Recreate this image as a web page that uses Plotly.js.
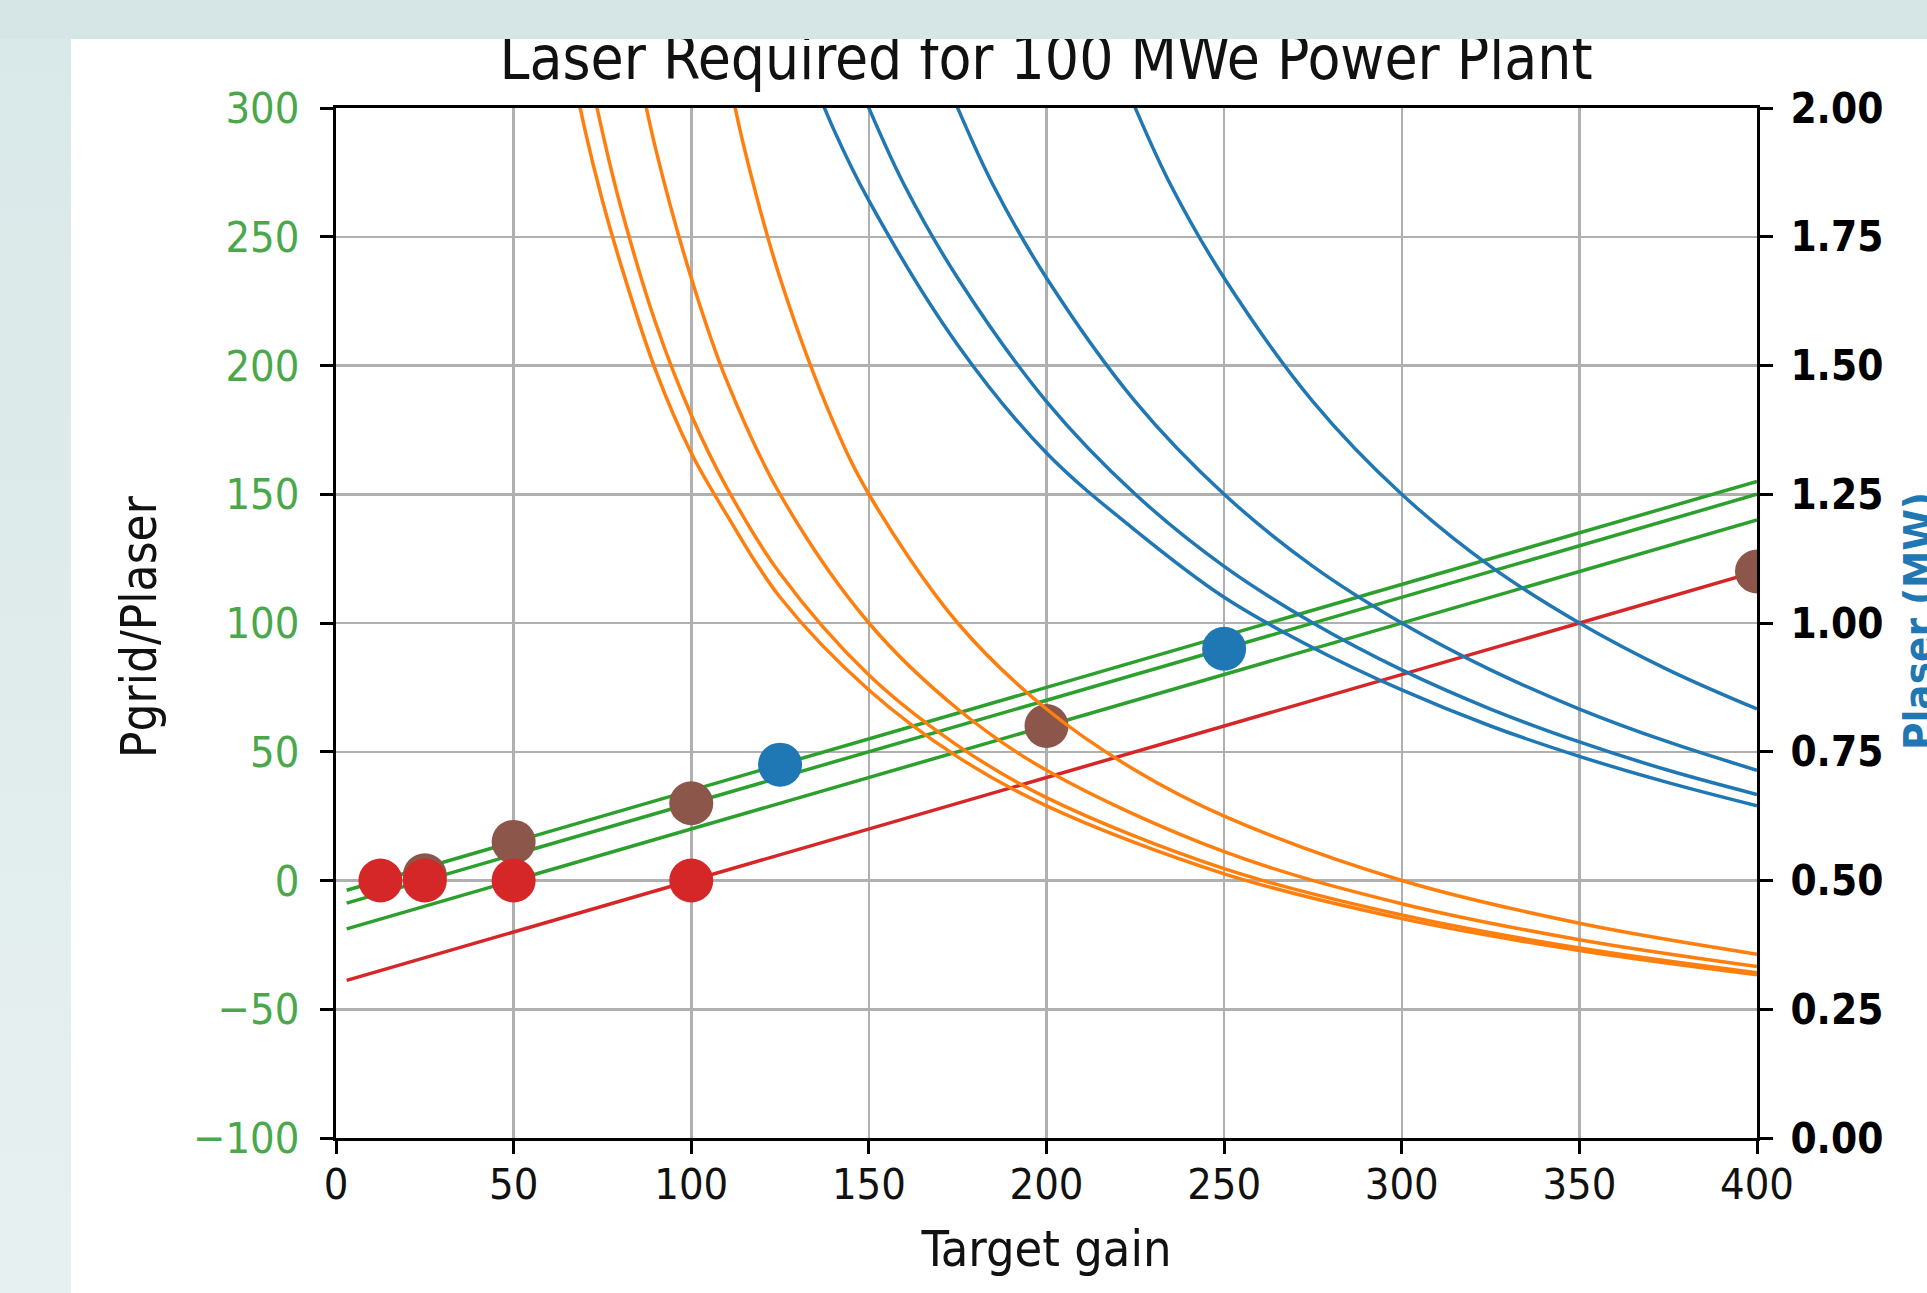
<!DOCTYPE html>
<html>
<head>
<meta charset="utf-8">
<script src="https://cdn.plot.ly/plotly-3.0.1.min.js"></script>
<style>
  html, body { margin:0; padding:0; background:#ffffff; overflow:hidden; }
  #chart { position:absolute; left:0; top:0; width:1927px; height:1293px; }
  #bandTop { position:absolute; left:0; top:0; width:1927px; height:39px; background:#d6e6e6; z-index:10; }
  #bandLeft { position:absolute; left:0; top:39px; width:71px; height:1254px; z-index:10;
              background:linear-gradient(to bottom, #d9e8e8, #e7f0f0); }
</style>
</head>
<body>
<div id="chart"></div>
<div id="bandTop"></div>
<div id="bandLeft"></div>
<script>
// ---- data ----
const lineGain = [3, 400];
const greenTop = [-3.8, 155];
const greenMid = [-8.8, 150];
const greenLow = [-18.8, 140];
const redLine  = [-38.8, 120];

const orange1Gain = [60, 65, 70, 75, 80, 90, 100, 110, 125, 150, 175, 200, 250, 300, 350, 400];
const orange1     = [2.33, 2.13, 1.96, 1.82, 1.70, 1.49, 1.33, 1.21, 1.05, 0.87, 0.74, 0.645, 0.513, 0.426, 0.364, 0.317];
const orange2Gain = [65, 70, 75, 80, 90, 100, 110, 125, 150, 175, 200, 250, 300, 350, 400];
const orange2     = [2.315, 2.119, 1.953, 1.812, 1.582, 1.404, 1.263, 1.096, 0.899, 0.762, 0.661, 0.523, 0.433, 0.369, 0.321];
const orange3Gain = [80, 85, 90, 100, 110, 125, 150, 175, 200, 250, 300, 350, 400];
const orange3     = [2.27, 2.08, 1.92, 1.67, 1.47, 1.25, 1.0, 0.833, 0.714, 0.556, 0.455, 0.385, 0.333];
const orange4Gain = [105, 110, 115, 125, 140, 150, 175, 200, 225, 250, 300, 350, 400];
const orange4     = [2.27, 2.08, 1.92, 1.67, 1.39, 1.25, 1.0, 0.833, 0.714, 0.625, 0.5, 0.417, 0.357];

const blue1Gain = [130, 140, 150, 175, 200, 225, 250, 275, 300, 325, 350, 375, 400];
const blue1     = [2.13, 1.96, 1.82, 1.54, 1.33, 1.18, 1.05, 0.952, 0.870, 0.800, 0.741, 0.690, 0.645];
const blue2Gain = [140, 150, 160, 175, 200, 225, 250, 275, 300, 325, 350, 375, 400];
const blue2     = [2.17, 2.0, 1.85, 1.67, 1.43, 1.25, 1.11, 1.0, 0.909, 0.833, 0.769, 0.714, 0.667];
const blue3Gain = [165, 175, 185, 200, 225, 250, 275, 300, 325, 350, 375, 400];
const blue3     = [2.17, 2.0, 1.85, 1.67, 1.43, 1.25, 1.11, 1.0, 0.909, 0.833, 0.769, 0.714];
const blue4Gain = [215, 225, 235, 250, 275, 300, 325, 350, 375, 400];
const blue4     = [2.17, 2.0, 1.85, 1.67, 1.43, 1.25, 1.11, 1.0, 0.909, 0.833];

const redPtsGain   = [12.5, 25, 50, 100];
const redPts       = [0, 0, 0, 0];
const brownPtsGain = [25, 50, 100, 200, 400];
const brownPts     = [2, 15, 30, 60, 120];
const bluePtsGain  = [125, 250];
const bluePts      = [45, 90];

const titleText  = 'Laser Required for 100 MWe Power Plant';
const xTitle     = 'Target gain';
const yTitle     = 'Pgrid/Plaser';
const y2Title    = 'Plaser (MW)';

// ---- fonts: prefer a condensed face (reference text is tall and narrow), size to match widths ----
const cv = document.createElement('canvas').getContext('2d');
function textW(txt, fam, weight, size) {
  cv.font = (weight || 'normal') + ' ' + size + 'px ' + fam;
  return cv.measureText(txt).width;
}
const condFam = '"DejaVu Sans Condensed", "DejaVu Sans", sans-serif';
const hasCond = Math.abs(textW('Laser Required', '"DejaVu Sans Condensed", monospace', 'normal', 100) -
                         textW('Laser Required', 'monospace', 'normal', 100)) > 1 &&
                Math.abs(textW('Laser Required', '"DejaVu Sans Condensed", monospace', 'normal', 100) -
                         textW('Laser Required', '"DejaVu Sans", monospace', 'normal', 100)) > 1;
const FAM = hasCond ? 'DejaVu Sans Condensed, DejaVu Sans, sans-serif' : 'DejaVu Sans, sans-serif';
const famCss = hasCond ? condFam : '"DejaVu Sans", sans-serif';
function fit(txt, weight, target) {
  return Math.round(100 * target / textW(txt, famCss, weight, 100) * 10) / 10;
}
const fsTitle  = fit(titleText, 'normal', 1094);
const fsTick   = fit('300', 'normal', 74);
const fsTick2  = fit('2.00', 'bold', 93);
const fsXTitle = fit(xTitle, 'normal', 250);
const fsYTitle = fit(yTitle, 'normal', 262);
const fsY2     = fit(y2Title, 'bold', 258);

// ---- styling ----
const C = { blue:'#1f77b4', orange:'#ff7f0e', green:'#2ca02c', red:'#d62728', brown:'#8c564b' };
const LW = 3.5;

function line(x, y, color, axis) {
  return { x:x, y:y, type:'scatter', mode:'lines', yaxis:axis,
           line:{ color:color, width:LW, shape:'spline', smoothing:1 }, hoverinfo:'skip' };
}
function pts(x, y, color) {
  return { x:x, y:y, type:'scatter', mode:'markers', yaxis:'y',
           marker:{ color:color, size:44, line:{width:0} }, cliponaxis:true, hoverinfo:'skip' };
}

const traces = [
  line(lineGain, greenTop, C.green, 'y'),
  line(lineGain, greenMid, C.green, 'y'),
  line(lineGain, greenLow, C.green, 'y'),
  line(lineGain, redLine,  C.red,   'y'),
  pts(brownPtsGain, brownPts, C.brown),
  pts(redPtsGain, redPts, C.red),
  pts(bluePtsGain, bluePts, C.blue),
  line(orange1Gain, orange1, C.orange, 'y2'),
  line(orange2Gain, orange2, C.orange, 'y2'),
  line(orange3Gain, orange3, C.orange, 'y2'),
  line(orange4Gain, orange4, C.orange, 'y2'),
  line(blue1Gain, blue1, C.blue, 'y2'),
  line(blue2Gain, blue2, C.blue, 'y2'),
  line(blue3Gain, blue3, C.blue, 'y2'),
  line(blue4Gain, blue4, C.blue, 'y2')
];

const L = 336, R = 170, T = 108, B = 155, W = 1927, H = 1293;
const PW = W - L - R, PH = H - T - B;
const px2x = p => (p - L) / PW;
const py2y = p => (H - B - p) / PH;

const axisCommon = {
  showline:true, linecolor:'#000', linewidth:3,
  ticks:'outside', ticklen:13, tickwidth:3, tickcolor:'#000',
  zeroline:false
};

const layout = {
  width:W, height:H,
  margin:{ l:L, r:R, t:T, b:B, pad:0 },
  paper_bgcolor:'#ffffff', plot_bgcolor:'#ffffff',
  showlegend:false,
  title:{ text:titleText, font:{ family:FAM, size:fsTitle, color:'#111' },
          xref:'container', yref:'container', x:1046/W, xanchor:'center',
          y:1 - (81 - 0.38 * fsTitle)/H, yanchor:'middle' },
  xaxis: Object.assign({}, axisCommon, {
    range:[0,400], tick0:0, dtick:50, mirror:true,
    showgrid:true, gridcolor:'#b0b0b0', gridwidth:2.5, ticklabelstandoff:-7,
    tickfont:{ family:FAM, size:fsTick, color:'#111' },
    title:{ text:xTitle, font:{ family:FAM, size:fsXTitle, color:'#111' }, standoff:24 }
  }),
  yaxis: Object.assign({}, axisCommon, {
    range:[-100,300], tick0:-100, dtick:50,
    showgrid:true, gridcolor:'#b0b0b0', gridwidth:2.5, ticklabelstandoff:12,
    tickfont:{ family:FAM, size:fsTick, color:'#4aa84a' }
  }),
  yaxis2: Object.assign({}, axisCommon, {
    range:[0,2], tick0:0, dtick:0.25, tickformat:'.2f',
    overlaying:'y', side:'right', showgrid:false, ticklabelstandoff:9,
    tickfont:{ family:FAM, size:fsTick2, color:'#000', weight:'bold' }
  }),
  annotations:[
    { text:yTitle, xref:'paper', yref:'paper', x:px2x(139), y:py2y(627), xanchor:'center', yanchor:'middle',
      textangle:-90, showarrow:false, font:{ family:FAM, size:fsYTitle, color:'#111' } },
    { text:y2Title, xref:'paper', yref:'paper', x:px2x(1918), y:py2y(621), xanchor:'center', yanchor:'middle',
      textangle:-90, showarrow:false, font:{ family:FAM, size:fsY2, color:C.blue, weight:'bold' } }
  ]
};

Plotly.newPlot('chart', traces, layout, { staticPlot:true, displayModeBar:false });
</script>
</body>
</html>
